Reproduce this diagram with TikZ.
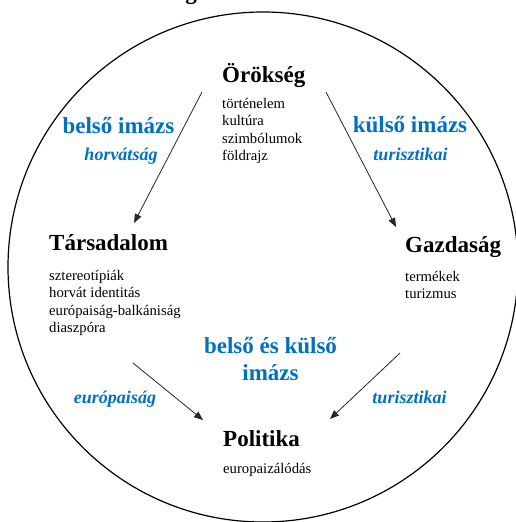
\documentclass[tikz,border=0pt]{standalone}
\usepackage{fontspec}
\setmainfont{Liberation Serif}
\usetikzlibrary{arrows.meta}
\definecolor{imblue}{HTML}{0070C0}
\tikzset{
  head/.style={font=\fontsize{23}{27}\selectfont\bfseries, inner sep=0pt, anchor=base west},
  lst/.style={font=\fontsize{14.7}{17.5}\selectfont, inner sep=0pt, anchor=base west},
  imz/.style={font=\fontsize{23}{27}\selectfont\bfseries, text=imblue, inner sep=0pt, anchor=base},
  tag/.style={font=\fontsize{18}{21}\selectfont\bfseries\itshape, text=imblue, inner sep=0pt, anchor=base},
  arr/.style={draw=black!85, line width=0.8pt, -{Triangle[length=9pt,width=7pt]}}
}
\begin{document}
\begin{tikzpicture}[x=1pt,y=-1pt]
\useasboundingbox (0,0) rectangle (515,522);
\fill[white] (0,0) rectangle (515,522);
% cut-off title fragment
\node[head, anchor=base] (title) at (191,-1) {g};
% circle
\draw[line width=1.2pt] (263,267) circle[radius=255];
% Örökség
\node[head] (oro) at (222,82) {Örökség};
\node[lst] (oro1) at (222,108) {történelem};
\node[lst] (oro2) at (222,125.5) {kultúra};
\node[lst] (oro3) at (222,143) {szimbólumok};
\node[lst] (oro4) at (222,160.5) {földrajz};
% Társadalom
\node[head] (tar) at (49,250) {Társadalom};
\node[lst] (tar1) at (49,280) {sztereotípiák};
\node[lst] (tar2) at (49,297.5) {horvát identitás};
\node[lst] (tar3) at (49,315) {európaiság-balkániság};
\node[lst] (tar4) at (49,332.5) {diaszpóra};
% Gazdaság
\node[head] (gaz) at (405,252) {Gazdaság};
\node[lst] (gaz1) at (405,281) {termékek};
\node[lst] (gaz2) at (405,298) {turizmus};
% Politika
\node[head] (pol) at (223,446) {Politika};
\node[lst] (pol1) at (223,473) {europaizálódás};
% image labels
\node[imz] (bi) at (118.5,133) {belső imázs};
\node[tag] (bit) at (121,160) {horvátság};
\node[imz] (ki) at (410,132) {külső imázs};
\node[tag] (kit) at (410.5,160) {turisztikai};
\node[imz, align=center] (bki) at (270.5,380) {belső és külső\\imázs};
\node[tag] (eur) at (115,403) {európaiság};
\node[tag] (tur) at (409.5,403) {turisztikai};
% arrows
\coordinate (a1s) at (202,92);
\coordinate (a1e) at (134,223);
\coordinate (a2s) at (326,92);
\coordinate (a2e) at (396,227);
\coordinate (a3s) at (133,363);
\coordinate (a3e) at (203,420);
\coordinate (a4s) at (400,353);
\coordinate (a4e) at (330,419);
\draw[arr] (a1s) -- (a1e);
\draw[arr] (a2s) -- (a2e);
\draw[arr] (a3s) -- (a3e);
\draw[arr] (a4s) -- (a4e);
\end{tikzpicture}
\end{document}
